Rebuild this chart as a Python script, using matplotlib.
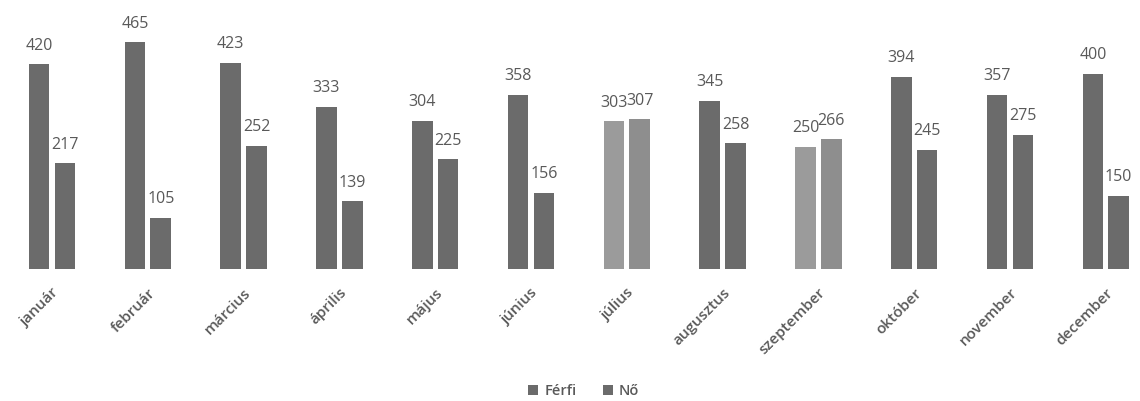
import numpy as np
import matplotlib
matplotlib.use('Agg')
import matplotlib.pyplot as plt

honapok = ['január', 'február', 'március', 'április', 'május', 'június',
           'július', 'augusztus', 'szeptember', 'október', 'november', 'december']
ferfi = [420, 465, 423, 333, 304, 358, 303, 345, 250, 394, 357, 400]
no = [217, 105, 252, 139, 225, 156, 307, 258, 266, 245, 275, 150]

plt.rcParams['font.family'] = ['Open Sans', 'DejaVu Sans']

fig = plt.figure(figsize=(11.4, 4.01), dpi=100)
ax = fig.add_axes([0, 132/401, 1, 269/401])

x = np.arange(len(honapok))
w = 0.215
off = 0.135
c_dark = '#6b6b6b'
col_f = [c_dark] * 12
col_n = [c_dark] * 12
for i in (6, 8):
    col_f[i] = '#9b9b9b'
    col_n[i] = '#8e8e8e'

b1 = ax.bar(x - off, ferfi, w, color=col_f, label='Férfi')
b2 = ax.bar(x + off, no, w, color=col_n, label='Nő')

for xi, v in zip(x, ferfi):
    ax.text(xi - off, v + 22, str(v), ha='center', va='bottom', fontsize=11.5, color='#595959')
for xi, v in zip(x, no):
    ax.text(xi + off, v + 22, str(v), ha='center', va='bottom', fontsize=11.5, color='#595959')

ax.set_xlim(-0.543, 11.357)
ax.set_ylim(0, 552)
ax.set_xticks(x)
ax.set_xticklabels(honapok, rotation=45, ha='right', rotation_mode='anchor',
                   fontsize=11, color='#595959', fontweight='semibold')
ax.tick_params(axis='x', length=0, pad=12)
ax.set_yticks([])
for s in ax.spines.values():
    s.set_visible(False)

fig.legend(handles=[b1, b2], labels=['Férfi', 'Nő'], loc='lower center',
           bbox_to_anchor=(0.512, -0.025), ncol=2, frameon=False,
           prop={'size': 10.5, 'weight': 'semibold'},
           handlelength=0.7, handleheight=0.7, handletextpad=0.4, columnspacing=1.8,
           labelcolor='#595959')

plt.savefig('out.png', dpi=100)
